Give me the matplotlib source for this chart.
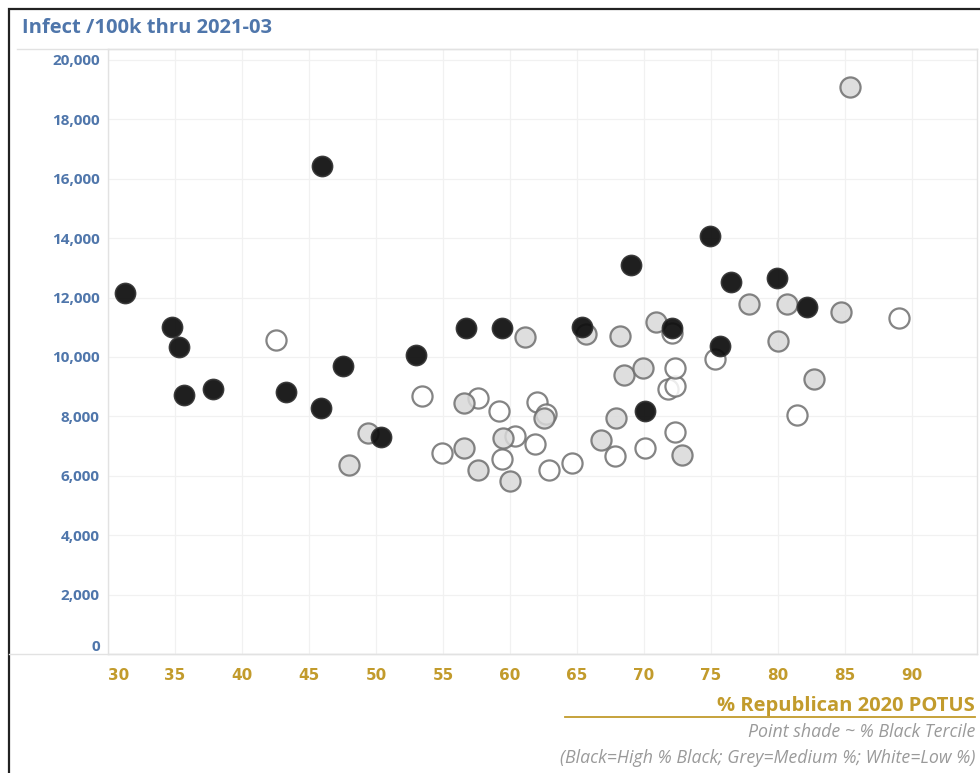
from matplotlib import pyplot as plt
from matplotlib.lines import Line2D
from matplotlib.patches import Rectangle

# % Republican vote share vs infections per 100k, split by % Black tercile
black_rep = [31.3, 34.8, 35.3, 35.7, 37.8, 43.3, 46.0, 45.9, 47.5, 50.4, 53.0,
             56.7, 59.4, 65.4, 69.0, 70.1, 72.1, 74.9, 76.5, 79.9, 82.2, 75.7]
black_inf = [12150, 11000, 10340, 8720, 8920, 8820, 16430, 8280, 9700, 7300, 10070,
             10980, 10980, 11010, 13100, 8180, 10980, 14070, 12520, 12660, 11680, 10370]

grey_rep = [49.4, 48.0, 56.6, 56.6, 57.6, 59.5, 60.0, 61.1, 62.5, 65.7, 66.8,
            67.9, 68.2, 68.5, 69.9, 70.9, 72.8, 77.8, 80.7, 80.0, 82.7, 84.7, 85.4]
grey_inf = [7440, 6370, 8450, 6940, 6200, 7270, 5830, 10670, 7950, 10770, 7200,
            7950, 10700, 9400, 9630, 11180, 6700, 11780, 11780, 10540, 9260, 11520, 19090]

white_rep = [42.5, 53.4, 54.9, 57.6, 59.2, 60.4, 59.4, 62.0, 62.7, 61.9, 62.9,
             64.6, 67.8, 70.1, 72.1, 71.8, 72.3, 72.3, 72.3, 75.3, 81.4, 89.0]
white_inf = [10570, 8690, 6770, 8620, 8180, 7340, 6570, 8490, 8080, 7070, 6200,
             6430, 6670, 6940, 10810, 8920, 9020, 9630, 7480, 9930, 8050, 11310]

x_ticks = [30, 35, 40, 45, 50, 55, 60, 65, 70, 75, 80, 85, 90]
y_ticks = [0, 2000, 4000, 6000, 8000, 10000, 12000, 14000, 16000, 18000, 20000]

blue = '#4f76ab'
gold = '#c29b2c'
light = '#e2e2e2'

fig = plt.figure(figsize=(9.8, 7.73), dpi=100)
ax = fig.add_axes([108/980, 1 - 654/773, 869/980, 605/773])

ms = 210
ax.scatter(white_rep, white_inf, s=ms, c='white', edgecolors='#6e6e6e', linewidths=1.6, alpha=0.85, zorder=3)
ax.scatter(grey_rep, grey_inf, s=ms, c='#d9d9d9', edgecolors='#6e6e6e', linewidths=1.6, alpha=0.85, zorder=4)
ax.scatter(black_rep, black_inf, s=ms, c='#0e0e0e', edgecolors='#333333', linewidths=1.2, alpha=0.93, zorder=5)

ax.set_xlim(30, 94.85)
ax.set_ylim(0, 20370)
ax.set_xticks(x_ticks)
ax.set_yticks(y_ticks)
ax.set_xticklabels([str(v) for v in x_ticks], fontfamily='Liberation Sans Narrow',
                   fontweight='bold', fontsize=11, color=gold)
ax.set_yticklabels([f'{v:,}' for v in y_ticks], fontfamily='Open Sans',
                   fontweight='bold', fontsize=11, color=blue)
ax.get_xticklabels()[0].set_ha('left')
ax.get_yticklabels()[0].set_va('bottom')
ax.tick_params(axis='both', length=0)
ax.tick_params(axis='x', pad=10)
ax.tick_params(axis='y', pad=6)
ax.grid(True, color='#f1f1f1', linewidth=0.9)
ax.set_axisbelow(True)
for side in ax.spines.values():
    side.set_color(light)
    side.set_linewidth(1.0)

# header rule, bottom rule and outer frame
fig.add_artist(Line2D([17/980, 977/980], [1 - 49/773] * 2, color=light, lw=1.0))
fig.add_artist(Line2D([9/980, 977/980], [1 - 654/773] * 2, color=light, lw=1.0))
fig.add_artist(Rectangle((9/980, -0.01), 1.0, 1 - 9/773 + 0.01, fill=False,
                         edgecolor='#222222', lw=1.6))

fig.text(22/980, 1 - 28/773, 'Infect /100k thru 2021-03', fontfamily='Open Sans',
         fontweight='bold', fontsize=14.5, color=blue, ha='left', va='center')

fig.text(975/980, 1 - 706/773, '% Republican 2020 POTUS', fontfamily='Open Sans',
         fontweight='bold', fontsize=14.5, color=gold, ha='right', va='center')
fig.add_artist(Line2D([565/980, 975/980], [1 - 717/773] * 2, color=gold, lw=1.3))
fig.text(975/980, 1 - 732/773, 'Point shade ~ % Black Tercile', fontfamily='Open Sans',
         fontstyle='italic', fontsize=12.8, color='#9a9a9a', ha='right', va='center')
fig.text(975/980, 1 - 758/773, '(Black=High % Black; Grey=Medium %; White=Low %)',
         fontfamily='Open Sans', fontstyle='italic', fontsize=12.8, color='#9a9a9a',
         ha='right', va='center')

fig.savefig('out.png', dpi=100)
